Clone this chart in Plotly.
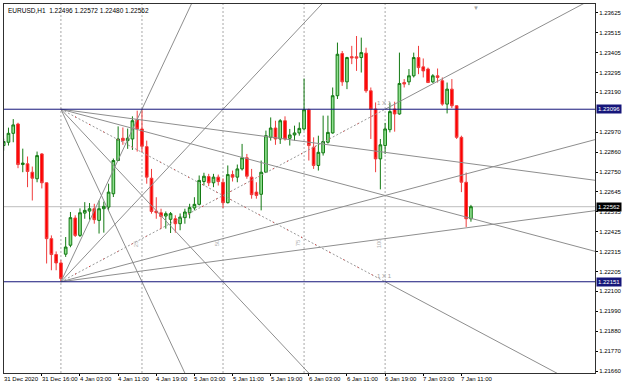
import plotly.graph_objects as go

# ---------------- data (EURUSD H1) ----------------
symbol = "EURUSD,H1"
bars = list(range(99))
opens = [
    1.22897, 1.22915, 1.22964, 1.23015, 1.22793, 1.22797, 1.22751, 1.22715, 1.22851, 1.22693,
    1.22387, 1.22300, 1.22254, 1.22302, 1.22351, 1.22500, 1.22405, 1.22527, 1.22538, 1.22551,
    1.22487, 1.22551, 1.22560, 1.22633, 1.22815, 1.22937, 1.22924, 1.22933, 1.23039, 1.22988,
    1.22891, 1.22718, 1.22538, 1.22529, 1.22511, 1.22493, 1.22496, 1.22469, 1.22502, 1.22529,
    1.22555, 1.22575, 1.22700, 1.22727, 1.22693, 1.22724, 1.22696, 1.22584, 1.22738, 1.22724,
    1.22769, 1.22830, 1.22724, 1.22642, 1.22630, 1.22751, 1.22942, 1.22993, 1.22933, 1.23033,
    1.22937, 1.22955, 1.22966, 1.22988, 1.23093, 1.22888, 1.22788, 1.22857, 1.22915, 1.22966,
    1.23170, 1.23401, 1.23246, 1.23384, 1.23383, 1.23379, 1.23403, 1.23197, 1.23097, 1.22824,
    1.22897, 1.22984, 1.23097, 1.23070, 1.23242, 1.23246, 1.23279, 1.23379, 1.23328, 1.23316,
    1.23246, 1.23279, 1.23252, 1.23124, 1.23206, 1.23115, 1.22942, 1.22696, 1.22496]
highs = [
    1.22935, 1.22995, 1.23042, 1.23022, 1.22880, 1.22837, 1.22782, 1.22864, 1.22856, 1.22695,
    1.22405, 1.22317, 1.22269, 1.22396, 1.22533, 1.22515, 1.22553, 1.22587, 1.22582, 1.22578,
    1.22596, 1.22590, 1.22688, 1.22826, 1.23002, 1.22996, 1.22990, 1.23057, 1.23088, 1.23097,
    1.22924, 1.22769, 1.22614, 1.22551, 1.22536, 1.22533, 1.22515, 1.22525, 1.22551, 1.22578,
    1.22614, 1.22733, 1.22748, 1.22742, 1.22742, 1.22738, 1.22717, 1.22788, 1.22760, 1.22793,
    1.22906, 1.22851, 1.22769, 1.22696, 1.22815, 1.22979, 1.23051, 1.23033, 1.23042, 1.23057,
    1.22988, 1.23006, 1.23024, 1.23264, 1.23099, 1.22942, 1.22951, 1.23061, 1.23061, 1.23215,
    1.23461, 1.23415, 1.23383, 1.23443, 1.23497, 1.23488, 1.23433, 1.23215, 1.23133, 1.22933,
    1.23021, 1.23133, 1.23137, 1.23406, 1.23261, 1.23316, 1.23406, 1.23443, 1.23374, 1.23324,
    1.23288, 1.23319, 1.23270, 1.23242, 1.23261, 1.23118, 1.22951, 1.22749, 1.22572]
lows = [
    1.22869, 1.22897, 1.22915, 1.22773, 1.22751, 1.22669, 1.22596, 1.22696, 1.22662, 1.22251,
    1.22214, 1.22214, 1.22151, 1.22287, 1.22340, 1.22396, 1.22396, 1.22496, 1.22491, 1.22469,
    1.22415, 1.22420, 1.22542, 1.22615, 1.22812, 1.22901, 1.22879, 1.22873, 1.22864, 1.22860,
    1.22688, 1.22524, 1.22496, 1.22442, 1.22442, 1.22418, 1.22420, 1.22433, 1.22469, 1.22498,
    1.22542, 1.22569, 1.22678, 1.22675, 1.22669, 1.22678, 1.22555, 1.22580, 1.22700, 1.22696,
    1.22760, 1.22715, 1.22606, 1.22606, 1.22542, 1.22749, 1.22924, 1.22901, 1.22906, 1.22924,
    1.22897, 1.22924, 1.22951, 1.22979, 1.22815, 1.22769, 1.22760, 1.22842, 1.22908, 1.22962,
    1.23152, 1.23224, 1.23206, 1.23343, 1.23306, 1.23297, 1.23186, 1.22933, 1.22751, 1.22657,
    1.22851, 1.22969, 1.22973, 1.23066, 1.23215, 1.23228, 1.23270, 1.23288, 1.23270, 1.23240,
    1.23240, 1.23242, 1.23115, 1.23073, 1.23102, 1.22933, 1.22642, 1.22451, 1.22480]
closes = [
    1.22919, 1.22964, 1.23010, 1.22793, 1.22801, 1.22755, 1.22718, 1.22842, 1.22693, 1.22387,
    1.22300, 1.22254, 1.22169, 1.22341, 1.22502, 1.22405, 1.22529, 1.22542, 1.22551, 1.22491,
    1.22551, 1.22564, 1.22642, 1.22815, 1.22933, 1.22924, 1.22937, 1.23033, 1.22988, 1.22893,
    1.22724, 1.22536, 1.22529, 1.22509, 1.22524, 1.22524, 1.22469, 1.22505, 1.22533, 1.22557,
    1.22575, 1.22706, 1.22729, 1.22693, 1.22724, 1.22700, 1.22584, 1.22738, 1.22724, 1.22769,
    1.22830, 1.22729, 1.22628, 1.22624, 1.22751, 1.22951, 1.22993, 1.22933, 1.23033, 1.22933,
    1.22955, 1.22966, 1.22991, 1.23093, 1.22897, 1.22788, 1.22860, 1.22919, 1.22969, 1.23170,
    1.23397, 1.23246, 1.23379, 1.23377, 1.23376, 1.23406, 1.23197, 1.23097, 1.22824, 1.22901,
    1.22988, 1.23083, 1.23070, 1.23237, 1.23234, 1.23279, 1.23379, 1.23324, 1.23306, 1.23242,
    1.23279, 1.23270, 1.23124, 1.23206, 1.23115, 1.22942, 1.22696, 1.22496, 1.22562]

x_tick_bars = [0, 8, 16, 24, 32, 40, 48, 56, 64, 72, 80, 88, 96]
x_tick_text = ["31 Dec 2020", "31 Dec 16:00", "4 Jan 03:00", "4 Jan 11:00", "4 Jan 19:00",
               "5 Jan 03:00", "5 Jan 11:00", "5 Jan 19:00", "6 Jan 03:00", "6 Jan 11:00",
               "6 Jan 19:00", "7 Jan 03:00", "7 Jan 11:00"]
y_tick_vals = [1.23625, 1.23515, 1.23405, 1.23295, 1.23190, 1.22970, 1.22860,
               1.22750, 1.22645, 1.22535, 1.22425, 1.22315, 1.22205, 1.22100, 1.21990,
               1.21880, 1.21770, 1.21660]

# Gann fan anchors
fan_bar_start = 12
fan_bar_end = 80
fan_low = 1.22151
fan_high = 1.23096
fan_ratios = [4, 2, 1, 0.5, 0.25]
zone_bars = [12, 29, 46, 63, 80]
zone_labels = ["", "25", "50", "75", "100"]
bid_price = closes[-1]
shift_bar = 99

# ---------------- figure ----------------
X_RANGE = [0.063, 124.02]
Y_RANGE = [1.216512, 1.236723]
FONT = "Liberation Sans"
GRAY = "#8e8e8e"
NAVY = "#16167a"

fig = go.Figure()

fig.add_trace(go.Candlestick(
    x=bars, open=opens, high=highs, low=lows, close=closes,
    increasing=dict(line=dict(color="#137a13", width=1), fillcolor="#8fe08f"),
    decreasing=dict(line=dict(color="#f03c3c", width=1), fillcolor="#ff0000"),
    whiskerwidth=0, hoverinfo="skip"))

# Gann fans
slope = (fan_high - fan_low) / (fan_bar_end - fan_bar_start)
x_far = 130
for r in fan_ratios:
    for base, sign in ((fan_low, 1), (fan_high, -1)):
        if r == 1:
            # dotted anchor segment, then solid ray
            xs = [fan_bar_start, fan_bar_end]
            ys = [base + sign * slope * (x - fan_bar_start) for x in xs]
            fig.add_trace(go.Scatter(x=xs, y=ys, mode="lines",
                                     line=dict(color="#9a9a9a", width=1, dash="2px,2px"),
                                     hoverinfo="skip"))
            fig.add_trace(go.Scatter(x=xs, y=ys, mode="lines",
                                     line=dict(color="#e03030", width=1, dash="1px,15px"),
                                     hoverinfo="skip"))
            xs = [fan_bar_end, x_far]
        else:
            xs = [fan_bar_start, x_far]
        ys = [base + sign * r * slope * (x - fan_bar_start) for x in xs]
        fig.add_trace(go.Scatter(x=xs, y=ys, mode="lines",
                                 line=dict(color=GRAY, width=1), hoverinfo="skip"))

shapes = []
for zb in zone_bars:
    shapes.append(dict(type="line", xref="x", yref="paper", x0=zb, x1=zb, y0=0, y1=1,
                       line=dict(color="#a8a8a8", width=1, dash="2px,2px"), layer="below"))
for p in (fan_high, fan_low):
    shapes.append(dict(type="line", xref="paper", yref="y", x0=0, x1=1, y0=p, y1=p,
                       line=dict(color=NAVY, width=1), layer="above"))
shapes.append(dict(type="line", xref="paper", yref="y", x0=0, x1=1, y0=bid_price, y1=bid_price,
                   line=dict(color="#bdbdbd", width=1), layer="below"))

ann = []
for b, t in zip(x_tick_bars, x_tick_text):
    ann.append(dict(x=max(b, X_RANGE[0]), y=0, xref="x", yref="paper", text=t, showarrow=False,
                    xanchor="left", yanchor="top", yshift=-1, xshift=-2,
                    font=dict(family=FONT, size=6, color="#000")))
title = f"{symbol}\u00a0\u00a0{opens[-1]:.5f} {highs[-1]:.5f} {lows[-1]:.5f} {closes[-1]:.5f}"
ann.append(dict(x=0, y=1, xref="paper", yref="paper", text=title, showarrow=False,
                xanchor="left", yanchor="top", xshift=2, yshift=-1,
                font=dict(family=FONT, size=6.5, color="#000")))
for p, bg in ((fan_high, NAVY), (bid_price, "#000000"), (fan_low, NAVY)):
    ann.append(dict(x=1, y=p, xref="paper", yref="y", text=f"{p:.5f}", showarrow=False,
                    xanchor="left", yanchor="middle", xshift=1, bgcolor=bg, borderpad=1,
                    font=dict(family=FONT, size=6, color="#ffffff")))
for p in (fan_high, fan_low):
    ann.append(dict(x=fan_bar_end, y=p, xref="x", yref="y", text="1 X 1", showarrow=False,
                    xanchor="center", yanchor="bottom", yshift=1, xshift=-1,
                    font=dict(family=FONT, size=6, color="#a0a0a0")))
for zb, zl in zip(zone_bars, zone_labels):
    if zl:
        ann.append(dict(x=zb, y=1.22362, xref="x", yref="y", text=zl, showarrow=False,
                        textangle=-90, xanchor="right", yanchor="middle", xshift=-1,
                        font=dict(family=FONT, size=6, color="#b0b0b0")))
ann.append(dict(x=shift_bar, y=1, xref="x", yref="paper", text="\u25bc", showarrow=False,
                xanchor="center", yanchor="top", yshift=1,
                font=dict(family=FONT, size=6, color="#a0a0a0")))

fig.update_layout(
    width=625, height=387, margin=dict(l=3, r=29, t=3, b=14),
    paper_bgcolor="white", plot_bgcolor="white", showlegend=False, boxgap=0.2,
    shapes=shapes, annotations=ann,
    xaxis=dict(range=X_RANGE, tickvals=x_tick_bars, showticklabels=False, ticks="outside",
               ticklen=2, tickcolor="#000", showgrid=False, zeroline=False, showline=True,
               mirror=True, linecolor="#303030", linewidth=1, rangeslider=dict(visible=False),
               fixedrange=True),
    yaxis=dict(range=Y_RANGE, side="right", tickvals=y_tick_vals,
               ticktext=[f"{v:.5f}" for v in y_tick_vals], ticks="outside", ticklen=2,
               tickcolor="#000", tickfont=dict(family=FONT, size=6, color="#000"),
               showgrid=False, zeroline=False, showline=True, mirror=True,
               linecolor="#303030", linewidth=1, fixedrange=True),
)

fig.write_html("out.html")
